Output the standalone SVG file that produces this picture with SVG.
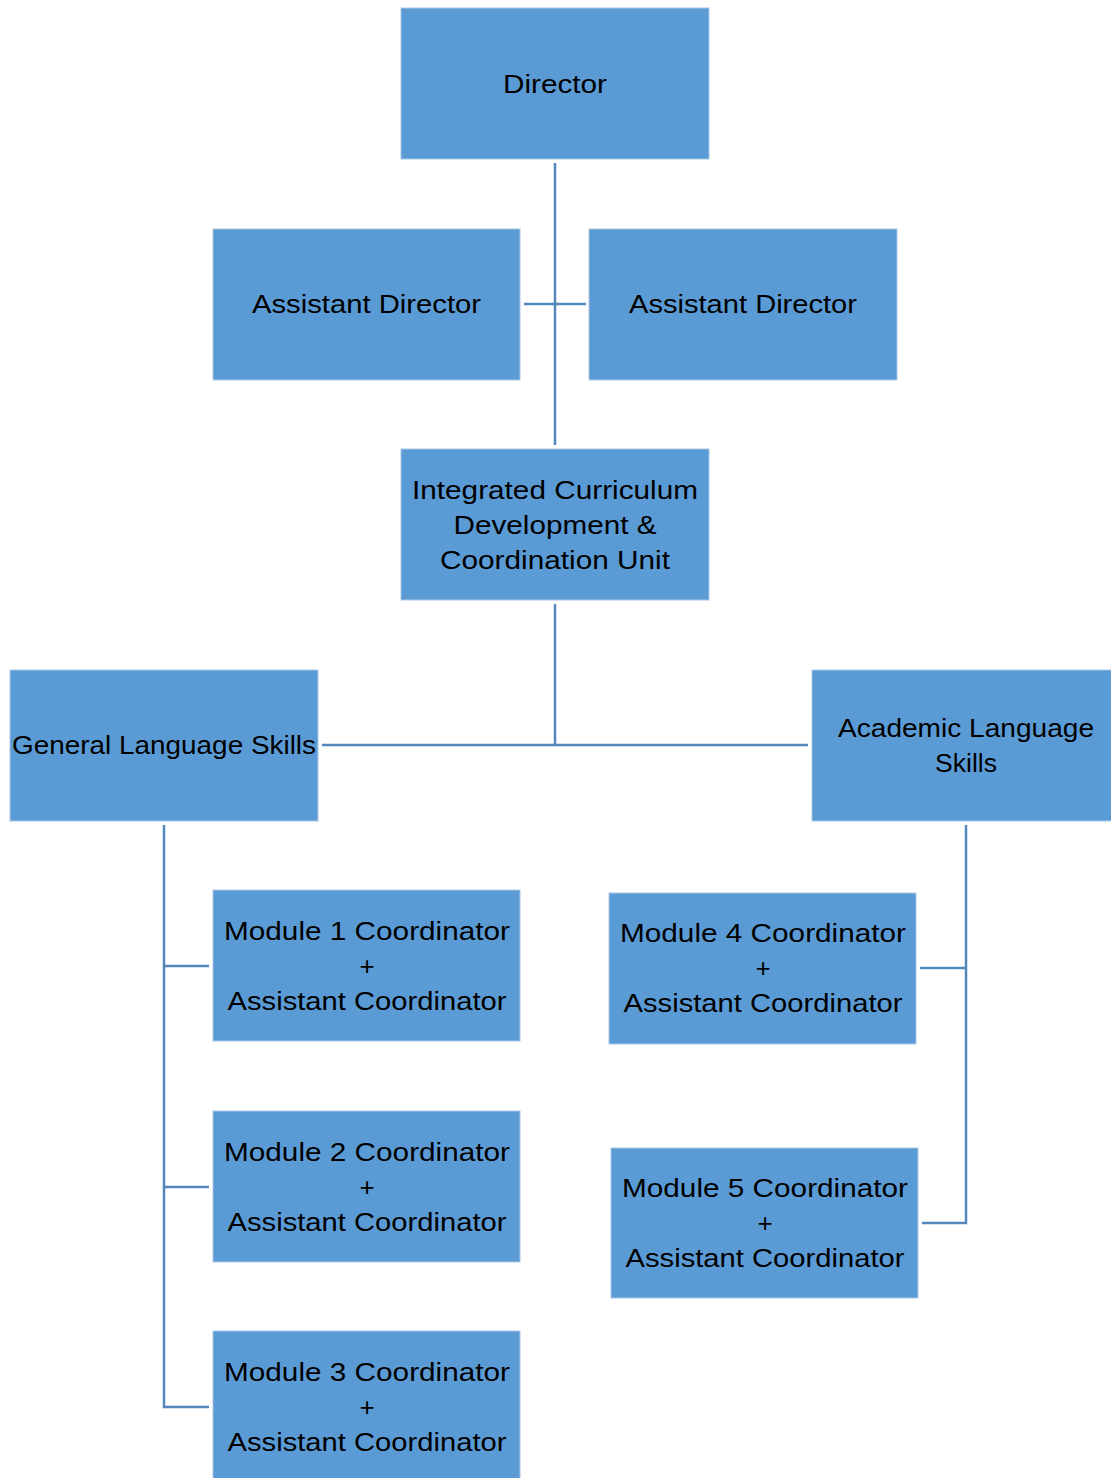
<svg xmlns="http://www.w3.org/2000/svg" width="1111" height="1478" viewBox="0 0 1111 1478">
<style>
.box{fill:#5B9BD5;stroke:#A9C8E8;stroke-width:1}
.t{font-family:"Liberation Sans",Arial,sans-serif;font-size:26px;fill:#000;text-anchor:middle}
.c{stroke:#5487BE;stroke-width:2.5;fill:none}
</style>
<rect width="1111" height="1478" fill="#fff"/>
<g id="connectors">
<line class="c" x1="555" y1="163" x2="555" y2="445"/>
<line class="c" x1="524" y1="304" x2="586" y2="304"/>
<line class="c" x1="555" y1="604" x2="555" y2="745"/>
<line class="c" x1="322" y1="745" x2="808" y2="745"/>
<polyline class="c" points="164,825 164,1407 209,1407"/>
<line class="c" x1="164" y1="966" x2="209" y2="966"/>
<line class="c" x1="164" y1="1187" x2="209" y2="1187"/>
<polyline class="c" points="966,825 966,1223 922,1223"/>
<line class="c" x1="920" y1="968" x2="966" y2="968"/>
</g>
<g id="director">
<rect class="box" x="401" y="8" width="308" height="151"/>
<text class="t" x="555" y="93" textLength="104" lengthAdjust="spacingAndGlyphs">Director</text>
</g>
<g id="asst-dir-left">
<rect class="box" x="213" y="229" width="307" height="151"/>
<text class="t" x="366.5" y="313" textLength="229" lengthAdjust="spacingAndGlyphs">Assistant Director</text>
</g>
<g id="asst-dir-right">
<rect class="box" x="589" y="229" width="308" height="151"/>
<text class="t" x="743" y="313" textLength="228" lengthAdjust="spacingAndGlyphs">Assistant Director</text>
</g>
<g id="icdcu">
<rect class="box" x="401" y="449" width="308" height="151"/>
<text class="t" x="555" y="499" textLength="286" lengthAdjust="spacingAndGlyphs">Integrated Curriculum</text>
<text class="t" x="555" y="534" textLength="203" lengthAdjust="spacingAndGlyphs">Development &amp;</text>
<text class="t" x="555" y="569" textLength="230" lengthAdjust="spacingAndGlyphs">Coordination Unit</text>
</g>
<g id="general">
<rect class="box" x="10" y="670" width="308" height="151"/>
<text class="t" x="164" y="754" textLength="304" lengthAdjust="spacingAndGlyphs">General Language Skills</text>
</g>
<g id="academic">
<rect class="box" x="812" y="670" width="308" height="151"/>
<text class="t" x="966" y="737" textLength="256" lengthAdjust="spacingAndGlyphs">Academic Language</text>
<text class="t" x="966" y="772" textLength="62" lengthAdjust="spacingAndGlyphs">Skills</text>
</g>
<g id="module1">
<rect class="box" x="213" y="890" width="307" height="151"/>
<text class="t" x="367" y="940" textLength="286" lengthAdjust="spacingAndGlyphs">Module 1 Coordinator</text>
<text class="t" x="367" y="975">+</text>
<text class="t" x="367" y="1010" textLength="279" lengthAdjust="spacingAndGlyphs">Assistant Coordinator</text>
</g>
<g id="module2">
<rect class="box" x="213" y="1111" width="307" height="151"/>
<text class="t" x="367" y="1161" textLength="286" lengthAdjust="spacingAndGlyphs">Module 2 Coordinator</text>
<text class="t" x="367" y="1196">+</text>
<text class="t" x="367" y="1231" textLength="279" lengthAdjust="spacingAndGlyphs">Assistant Coordinator</text>
</g>
<g id="module3">
<rect class="box" x="213" y="1331" width="307" height="151"/>
<text class="t" x="367" y="1381" textLength="286" lengthAdjust="spacingAndGlyphs">Module 3 Coordinator</text>
<text class="t" x="367" y="1416">+</text>
<text class="t" x="367" y="1451" textLength="279" lengthAdjust="spacingAndGlyphs">Assistant Coordinator</text>
</g>
<g id="module4">
<rect class="box" x="609" y="893" width="307" height="151"/>
<text class="t" x="763" y="942" textLength="286" lengthAdjust="spacingAndGlyphs">Module 4 Coordinator</text>
<text class="t" x="763" y="977">+</text>
<text class="t" x="763" y="1012" textLength="279" lengthAdjust="spacingAndGlyphs">Assistant Coordinator</text>
</g>
<g id="module5">
<rect class="box" x="611" y="1148" width="307" height="150"/>
<text class="t" x="765" y="1197" textLength="286" lengthAdjust="spacingAndGlyphs">Module 5 Coordinator</text>
<text class="t" x="765" y="1232">+</text>
<text class="t" x="765" y="1267" textLength="279" lengthAdjust="spacingAndGlyphs">Assistant Coordinator</text>
</g>
</svg>
